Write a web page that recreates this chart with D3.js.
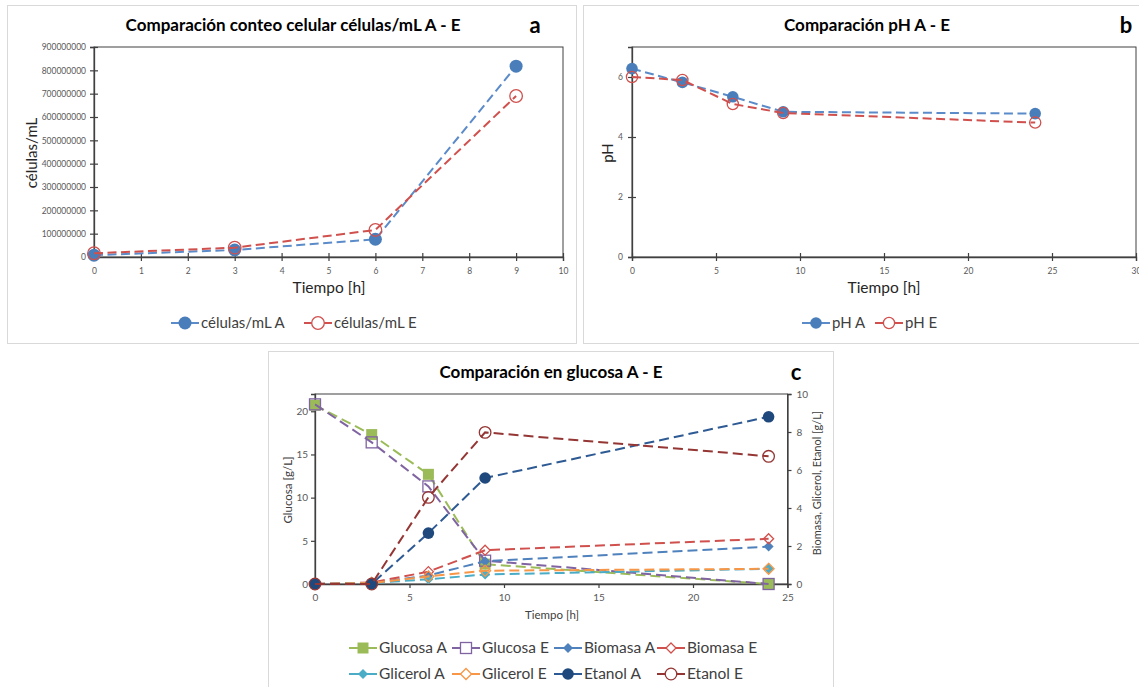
<!DOCTYPE html>
<html>
<head>
<meta charset="utf-8">
<script src="https://cdn.jsdelivr.net/npm/d3@7"></script>
<style>
  body { margin: 0; background: #fff; }
  svg { display: block; }
  text { font-family: Lato, "Open Sans", sans-serif; }
</style>
</head>
<body>
<svg id="fig" width="1139" height="687"></svg>
<script>
// ---- Panel a: cell count (células/mL) ----
const hoursCells = [0, 3, 6, 9];
const cellsA = [8e6, 30e6, 76e6, 818e6];
const cellsE = [16e6, 40e6, 116e6, 690e6];
const cellTicks = [0, 1e8, 2e8, 3e8, 4e8, 5e8, 6e8, 7e8, 8e8, 9e8];
const hourTicksCells = [0, 1, 2, 3, 4, 5, 6, 7, 8, 9, 10];

// ---- Panel b: pH ----
const hoursPH = [0, 3, 6, 9, 24];
const phA = [6.28, 5.82, 5.34, 4.84, 4.78];
const phE = [6.0, 5.9, 5.1, 4.8, 4.48];
const phTicks = [0, 2, 4, 6];
const hourTicksPH = [0, 5, 10, 15, 20, 25, 30];

// ---- Panel c: glucose fermentation ----
const hoursFerm = [0, 3, 6, 9, 24];
const glucosaA = [20.7, 17.3, 12.7, 2.3, 0];
const glucosaE = [20.8, 16.4, 11.3, 2.7, 0];
const biomasaA = [0, 0.05, 0.45, 1.2, 1.97];
const biomasaE = [0, 0.08, 0.65, 1.78, 2.38];
const glicerolA = [0, 0.05, 0.25, 0.5, 0.8];
const glicerolE = [0, 0.05, 0.4, 0.7, 0.8];
const etanolA = [0, 0, 2.68, 5.58, 8.8];
const etanolE = [0, 0, 4.56, 7.98, 6.72];
const glucoseTicks = [0, 5, 10, 15, 20];
const rightTicks = [0, 2, 4, 6, 8, 10];
const hourTicksFerm = [0, 5, 10, 15, 20, 25];

const svg = d3.select("#fig");
const AXIS = "#404040";
const TICKTXT = "#595959";

// marker drawing: circle, square, diamond; filled or open
function marker(g, shape, x, y, size, color, filled, openFill) {
  const fill = filled ? color : (openFill || "none");
  const sw = filled ? 0 : 1.3;
  if (shape === "circle") {
    g.append("circle").attr("cx", x).attr("cy", y).attr("r", size)
      .attr("fill", fill).attr("stroke", color).attr("stroke-width", sw);
  } else if (shape === "square") {
    g.append("rect").attr("x", x - size).attr("y", y - size)
      .attr("width", size * 2).attr("height", size * 2)
      .attr("fill", fill).attr("stroke", color).attr("stroke-width", sw);
  } else {
    g.append("path")
      .attr("d", `M${x},${y - size}L${x + size},${y}L${x},${y + size}L${x - size},${y}Z`)
      .attr("fill", fill).attr("stroke", color).attr("stroke-width", sw);
  }
}

function frame(x, y, w, h) {
  svg.append("rect").attr("x", x + 0.5).attr("y", y + 0.5).attr("width", w).attr("height", h)
    .attr("fill", "#fff").attr("stroke", "#d9d9d9").attr("stroke-width", 1);
}

function drawSeries(g, xs, ys, xScale, yScale, s) {
  const line = d3.line().x((d, i) => xScale(xs[i])).y(d => yScale(d));
  g.append("path").datum(ys).attr("d", line)
    .attr("fill", "none").attr("stroke", s.lineColor || s.color)
    .attr("stroke-width", s.width || 2).attr("stroke-dasharray", s.dash || "8,4");
  ys.forEach((v, i) => marker(g, s.shape, xScale(xs[i]), yScale(v), s.size, s.color, s.filled));
}

function legendItem(g, x, y, s, label, fontSize) {
  g.append("line").attr("x1", x - 14).attr("x2", x + 14).attr("y1", y).attr("y2", y)
    .attr("stroke", s.lineColor || s.color).attr("stroke-width", 2);
  marker(g, s.shape, x, y, s.legendSize || s.size, s.color, s.filled, "#fff");
  g.append("text").attr("x", x + 16).attr("y", y).attr("dy", "0.35em")
    .attr("font-size", fontSize).attr("fill", "#404040").text(label);
}

// crossing tick marks in the style of the spreadsheet charts
function styleAxis(g, cross, dir) {
  g.select(".domain").attr("stroke", AXIS).attr("stroke-width", 1.3);
  g.selectAll(".tick line").attr("stroke", AXIS).attr("stroke-width", 1.2);
  if (cross) {
    if (dir === "y") g.selectAll(".tick line").attr("x1", -4).attr("x2", 4);
    else g.selectAll(".tick line").attr("y1", -4).attr("y2", 4);
  }
  g.selectAll(".tick text").attr("fill", TICKTXT).attr("font-family", "Lato, sans-serif");
}

// ================= Panel a =================
frame(7, 5, 569, 338);
{
  const x = d3.scaleLinear([0, 10], [94, 563]);
  const y = d3.scaleLinear([0, 900e6], [257, 47]);
  const g = svg.append("g");
  g.append("rect").attr("x", 94).attr("y", 47).attr("width", 563 - 94).attr("height", 210)
    .attr("fill", "none").attr("stroke", AXIS).attr("stroke-width", 1);
  const gx = g.append("g").attr("transform", "translate(0,257)")
    .call(d3.axisBottom(x).tickValues(hourTicksCells).tickFormat(d3.format("d")).tickSize(4).tickPadding(7));
  gx.attr("font-size", 8.5);
  styleAxis(gx, true, "x");
  const gy = g.append("g").attr("transform", "translate(94,0)")
    .call(d3.axisLeft(y).tickValues(cellTicks).tickFormat(d3.format("d")).tickSize(4).tickPadding(4));
  gy.attr("font-size", 8.5);
  styleAxis(gy, true, "y");

  const sA = { color: "#4a7ebb", lineColor: "#5b8bc9", shape: "circle", size: 6.5, filled: true, dash: "9,4.5" };
  const sE = { color: "#d0504d", lineColor: "#d0504d", shape: "circle", size: 6.3, filled: false, dash: "9,4.5" };
  drawSeries(g, hoursCells, cellsA, x, y, sA);
  drawSeries(g, hoursCells, cellsE, x, y, sE);

  svg.append("text").attr("x", 293).attr("y", 25).attr("dy", "0.35em").attr("text-anchor", "middle")
    .attr("font-size", 17).attr("font-weight", "bold").attr("fill", "#000")
    .text("Comparación conteo celular células/mL A - E");
  svg.append("text").attr("x", 535).attr("y", 25).attr("dy", "0.35em").attr("text-anchor", "middle")
    .attr("font-size", 22).attr("font-weight", "bold").attr("fill", "#000").text("a");
  svg.append("text").attr("transform", "translate(32,153) rotate(-90)").attr("dy", "0.35em")
    .attr("text-anchor", "middle").attr("font-size", 15).attr("fill", "#262626").text("células/mL");
  svg.append("text").attr("x", 329).attr("y", 288).attr("dy", "0.35em").attr("text-anchor", "middle")
    .attr("font-size", 15.5).attr("fill", "#262626").text("Tiempo [h]");

  const lg = svg.append("g");
  legendItem(lg, 185, 323, sA, "células/mL A", 15);
  legendItem(lg, 318, 323, sE, "células/mL E", 15);
}

// ================= Panel b =================
frame(583, 5, 570, 338);
{
  const x = d3.scaleLinear([0, 30], [632, 1136]);
  const y = d3.scaleLinear([0, 7], [257, 47]);
  const g = svg.append("g");
  g.append("rect").attr("x", 632).attr("y", 47).attr("width", 1136 - 632).attr("height", 210)
    .attr("fill", "none").attr("stroke", AXIS).attr("stroke-width", 1);
  const gx = g.append("g").attr("transform", "translate(0,257)")
    .call(d3.axisBottom(x).tickValues(hourTicksPH).tickFormat(d3.format("d")).tickSize(4).tickPadding(7));
  gx.attr("font-size", 8.5);
  styleAxis(gx, true, "x");
  const gy = g.append("g").attr("transform", "translate(632,0)")
    .call(d3.axisLeft(y).tickValues(phTicks).tickFormat(d3.format("d")).tickSize(4).tickPadding(5));
  gy.attr("font-size", 8.5);
  styleAxis(gy, true, "y");

  const sA = { color: "#4a7ebb", lineColor: "#5b8bc9", shape: "circle", size: 5.8, filled: true, dash: "9,4.5" };
  const sE = { color: "#d0504d", lineColor: "#d0504d", shape: "circle", size: 5.6, filled: false, dash: "9,4.5" };
  drawSeries(g, hoursPH, phA, x, y, sA);
  drawSeries(g, hoursPH, phE, x, y, sE);

  svg.append("text").attr("x", 867).attr("y", 25).attr("dy", "0.35em").attr("text-anchor", "middle")
    .attr("font-size", 17).attr("font-weight", "bold").attr("fill", "#000").text("Comparación pH A - E");
  svg.append("text").attr("x", 1126).attr("y", 25).attr("dy", "0.35em").attr("text-anchor", "middle")
    .attr("font-size", 22).attr("font-weight", "bold").attr("fill", "#000").text("b");
  svg.append("text").attr("transform", "translate(608,153) rotate(-90)").attr("dy", "0.35em")
    .attr("text-anchor", "middle").attr("font-size", 15).attr("fill", "#262626").text("pH");
  svg.append("text").attr("x", 884).attr("y", 288).attr("dy", "0.35em").attr("text-anchor", "middle")
    .attr("font-size", 15.5).attr("fill", "#262626").text("Tiempo [h]");

  const lg = svg.append("g");
  legendItem(lg, 816, 323, sA, "pH A", 15);
  legendItem(lg, 889, 323, sE, "pH E", 15);
}

// ================= Panel c =================
frame(268, 351, 565, 345);
{
  const x = d3.scaleLinear([0, 25], [315, 787.5]);
  const yL = d3.scaleLinear([0, 22], [584, 394]);
  const yR = d3.scaleLinear([0, 10], [584, 394]);
  const g = svg.append("g");
  g.append("rect").attr("x", 315).attr("y", 394).attr("width", 787.5 - 315).attr("height", 190)
    .attr("fill", "none").attr("stroke", AXIS).attr("stroke-width", 1);
  const gx = g.append("g").attr("transform", "translate(0,584)")
    .call(d3.axisBottom(x).tickValues(hourTicksFerm).tickFormat(d3.format("d")).tickSize(4).tickPadding(6));
  gx.attr("font-size", 10);
  styleAxis(gx, false, "x");
  const gyL = g.append("g").attr("transform", "translate(315,0)")
    .call(d3.axisLeft(yL).tickValues(glucoseTicks).tickFormat(d3.format("d")).tickSize(4).tickPadding(3));
  gyL.attr("font-size", 10);
  styleAxis(gyL, false, "y");
  const gyR = g.append("g").attr("transform", "translate(787.5,0)")
    .call(d3.axisRight(yR).tickValues(rightTicks).tickFormat(d3.format("d")).tickSize(4).tickPadding(5));
  gyR.attr("font-size", 10);
  styleAxis(gyR, false, "y");

  const series = [
    { label: "Glucosa A", data: glucosaA, axis: yL, color: "#9bbb59", shape: "square", size: 5.5, filled: true, legendSize: 5.5 },
    { label: "Glucosa E", data: glucosaE, axis: yL, color: "#8064a2", shape: "square", size: 5.5, filled: false, legendSize: 5.5 },
    { label: "Biomasa A", data: biomasaA, axis: yR, color: "#4f81bd", shape: "diamond", size: 5, filled: true },
    { label: "Biomasa E", data: biomasaE, axis: yR, color: "#d0504d", shape: "diamond", size: 5, filled: false },
    { label: "Glicerol A", data: glicerolA, axis: yR, color: "#4bacc6", shape: "diamond", size: 5, filled: true },
    { label: "Glicerol E", data: glicerolE, axis: yR, color: "#f79646", shape: "diamond", size: 5.5, filled: false },
    { label: "Etanol A", data: etanolA, axis: yR, color: "#1f497d", lineColor: "#2e5a94", shape: "circle", size: 5.8, filled: true },
    { label: "Etanol E", data: etanolE, axis: yR, color: "#943634", shape: "circle", size: 5.8, filled: false }
  ];
  series.forEach(s => {
    s.dash = "10,5";
    drawSeries(g, hoursFerm, s.data, x, s.axis, s);
  });

  svg.append("text").attr("x", 551).attr("y", 372).attr("dy", "0.35em").attr("text-anchor", "middle")
    .attr("font-size", 17).attr("font-weight", "bold").attr("fill", "#000").text("Comparación en glucosa A - E");
  svg.append("text").attr("x", 796).attr("y", 372).attr("dy", "0.35em").attr("text-anchor", "middle")
    .attr("font-size", 22).attr("font-weight", "bold").attr("fill", "#000").text("c");
  svg.append("text").attr("transform", "translate(288,490) rotate(-90)").attr("dy", "0.35em")
    .attr("text-anchor", "middle").attr("font-size", 11.5).attr("fill", "#404040").text("Glucosa [g/L]");
  svg.append("text").attr("transform", "translate(817,483) rotate(-90)").attr("dy", "0.35em")
    .attr("text-anchor", "middle").attr("font-size", 11).attr("fill", "#404040").text("Biomasa, Glicerol, Etanol [g/L]");
  svg.append("text").attr("x", 552).attr("y", 615).attr("dy", "0.35em").attr("text-anchor", "middle")
    .attr("font-size", 11.5).attr("fill", "#404040").text("Tiempo [h]");

  const lg = svg.append("g");
  const cols = [363, 466, 568, 671];
  series.forEach((s, i) => {
    legendItem(lg, cols[i % 4], i < 4 ? 648 : 674, s, s.label, 15.5);
  });
}
</script>
</body>
</html>
